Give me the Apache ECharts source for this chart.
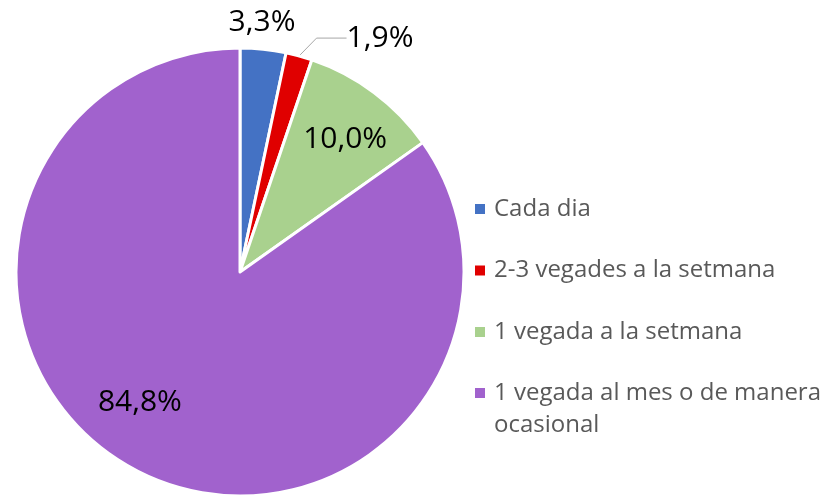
<!DOCTYPE html>
<html>
<head>
<meta charset="utf-8">
<script src="https://cdn.jsdelivr.net/npm/echarts@6/dist/echarts.min.js"></script>
<style>
  html, body { margin: 0; padding: 0; background: #fff; }
  #chart { width: 837px; height: 499px; }
</style>
</head>
<body>
<div id="chart"></div>
<script>
const categories = ['Cada dia', '2-3 vegades a la setmana', '1 vegada a la setmana', '1 vegada al mes o de manera ocasional'];
const shares = [3.3, 1.9, 10.0, 84.8];
const colors = ['#4472C4', '#E00000', '#A9D18E', '#A162CD'];
const legendNames = ['Cada dia', '2-3 vegades a la setmana', '1 vegada a la setmana', '1 vegada al mes o de manera\nocasional'];

const chart = echarts.init(document.getElementById('chart'));

const CX = 240, CY = 272, R = 224;
const total = shares.reduce((a, b) => a + b, 0);

// mid angle of each slice, degrees clockwise from 12 o'clock
const midAngles = [];
let acc = 0;
shares.forEach(v => {
    const span = v / total * 360;
    midAngles.push(acc + span / 2);
    acc += span;
});

// label placement: angle shift (deg) and radius fraction
const place = [
    { s: -0.9, f: 1.12 },
    { s: 15.6, f: 1.217 },
    { s: 1.6, f: 0.757 },
    { s: 10.2, f: 0.733 }
];

const fmt = v => v.toFixed(1).replace('.', ',') + '%';

const data = categories.map((name, i) => ({
    name: legendNames[i],
    value: shares[i],
    itemStyle: { color: colors[i] },
    label: { position: i < 2 ? 'outside' : 'inside' },
    labelLine: { show: i === 1 }
}));

const legendBase = {
    orient: 'vertical',
    left: 468,
    icon: 'rect',
    itemWidth: 12,
    itemHeight: 12,
    itemGap: 29.5,
    textStyle: {
        fontFamily: 'Open Sans',
        fontSize: 24,
        color: '#595959',
        lineHeight: 32,
        padding: [0, 0, 0, 3]
    }
};

chart.setOption({
    animation: false,
    legend: [
        Object.assign({}, legendBase, { top: 188, data: legendNames.slice(0, 3) }),
        // wrapped entry: blank first line keeps the icon level with the first text line
        Object.assign({}, legendBase, {
            top: 340,
            data: legendNames.slice(3),
            formatter: n => '\n' + n
        })
    ],
    series: [{
        type: 'pie',
        center: [CX, CY],
        radius: [0, R],
        startAngle: 90,
        clockwise: true,
        avoidLabelOverlap: false,
        itemStyle: { borderColor: '#fff', borderWidth: 3 },
        label: {
            fontFamily: 'Open Sans',
            fontSize: 30,
            color: '#000',
            formatter: p => fmt(p.value)
        },
        labelLine: {
            length: 6,
            length2: 30,
            lineStyle: { color: '#A6A6A6', width: 1 }
        },
        labelLayout: function (p) {
            const i = p.dataIndex;
            const a = (midAngles[i] + place[i].s) * Math.PI / 180;
            const r = place[i].f * R;
            return {
                x: CX + r * Math.sin(a),
                y: CY - r * Math.cos(a),
                align: 'center',
                verticalAlign: 'middle'
            };
        },
        data: data
    }]
});
</script>
</body>
</html>
